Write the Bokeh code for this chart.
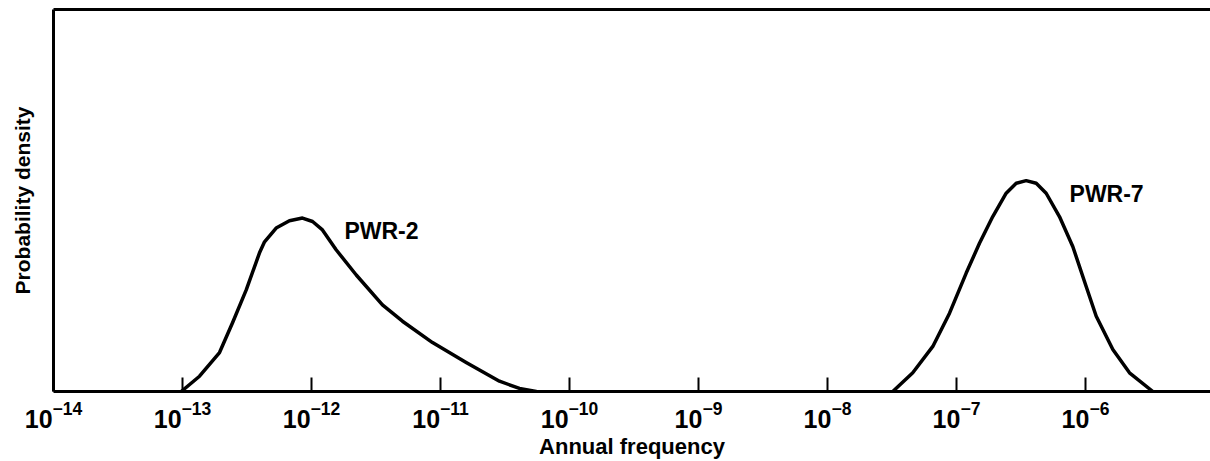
from bokeh.plotting import figure
from bokeh.models import Range1d, FixedTicker, Label, LinearAxis, LogTickFormatter
from bokeh.embed import file_html
from bokeh.resources import INLINE

# ---- data ----
pwr2_freq = [9.77e-14, 1.355e-13, 1.936e-13, 2.443e-13, 3.119e-13, 3.954e-13, 4.325e-13,
             5.32e-13, 6.745e-13, 8.51e-13, 1.019e-12, 1.216e-12, 1.552e-12, 2.223e-12,
             3.548e-12, 5.07e-12, 8.67e-12, 1.581e-11, 2.864e-11, 4.093e-11, 5.52e-11]
pwr2_density = [0.0, 4.0, 10.2, 18.0, 26.6, 36.3, 39.2, 42.8, 44.7, 45.4, 44.5, 42.3,
                37.1, 30.5, 22.7, 18.4, 12.8, 7.6, 2.7, 0.8, 0.0]

pwr7_freq = [3.206e-8, 4.58e-8, 6.55e-8, 8.83e-8, 1.189e-7, 1.507e-7, 1.91e-7, 2.427e-7,
             2.904e-7, 3.467e-7, 4.15e-7, 4.955e-7, 6.28e-7, 7.98e-7, 1.012e-6, 1.211e-6,
             1.629e-6, 2.193e-6, 3.327e-6]
pwr7_density = [0.0, 4.9, 11.8, 20.5, 31.0, 38.8, 45.8, 51.9, 54.5, 55.2, 54.5, 51.9,
                45.8, 37.9, 27.5, 19.7, 11.0, 4.9, 0.0]

tick_values = [1e-14, 1e-13, 1e-12, 1e-11, 1e-10, 1e-9, 1e-8, 1e-7, 1e-6]
series_names = ["PWR-2", "PWR-7"]
series_label_x = [1.80e-12, 7.52e-7]
series_label_y = [42.0, 51.7]
x_title = "Annual frequency"
y_title = "Probability density"

FONT = "Liberation Sans"
W, H = 1210, 461

p = figure(width=W, height=H, x_axis_type="log", output_backend="svg",
           toolbar_location=None,
           x_range=Range1d(1e-14, 9.31e-6), y_range=Range1d(0, 100),
           min_border_left=53, min_border_right=0, min_border_top=9,
           min_border_bottom=69)
p.outline_line_color = None
p.xgrid.visible = False
p.ygrid.visible = False
p.background_fill_color = "white"
p.border_fill_color = "white"


def hide_labels(ax):
    ax.major_label_text_font_size = "1px"
    ax.major_label_text_alpha = 0
    ax.major_label_standoff = 0


# bottom axis: line, inward ticks, "10" with raised exponent labels
xa = p.xaxis[0]
xa.ticker = FixedTicker(ticks=tick_values)
xa.formatter = LogTickFormatter()
xa.axis_line_width = 3
xa.axis_line_color = "black"
xa.major_tick_in = 14
xa.major_tick_out = 0
xa.major_tick_line_width = 2
xa.minor_tick_line_color = None
xa.major_label_text_font = FONT
xa.major_label_text_font_style = "bold"
xa.major_label_text_font_size = "25px"
xa.major_label_text_color = "black"
xa.major_label_standoff = 9
xa.axis_label = x_title
xa.axis_label_text_font = FONT
xa.axis_label_text_font_style = "bold"
xa.axis_label_text_font_size = "22px"
xa.axis_label_text_color = "black"
xa.axis_label_standoff = 3

# left axis: frame line + title
ya = p.yaxis[0]
ya.ticker = FixedTicker(ticks=[50])
ya.axis_line_width = 3
ya.axis_line_color = "black"
ya.major_tick_line_color = None
ya.major_tick_in = 0
ya.major_tick_out = 0
ya.minor_tick_line_color = None
hide_labels(ya)
ya.axis_label = y_title
ya.axis_label_text_font = FONT
ya.axis_label_text_font_style = "bold"
ya.axis_label_text_font_size = "21px"
ya.axis_label_text_color = "black"
ya.axis_label_standoff = 20

# top frame line
top_axis = LinearAxis(ticker=FixedTicker(ticks=[50]), axis_line_width=3,
                      major_tick_line_color=None, major_tick_in=0, major_tick_out=0,
                      minor_tick_line_color=None)
hide_labels(top_axis)
p.add_layout(top_axis, "above")

for fx, fy in ((pwr2_freq, pwr2_density), (pwr7_freq, pwr7_density)):
    p.line(fx, fy, line_color="black", line_width=3.5, line_join="round", line_cap="round")

for name, lx, ly in zip(series_names, series_label_x, series_label_y):
    p.add_layout(Label(x=lx, y=ly, text=name, text_font=FONT, text_font_style="bold",
                       text_font_size="23px", text_baseline="middle", text_align="left",
                       text_color="black"))

open("out.html", "w").write(file_html(p, INLINE))
